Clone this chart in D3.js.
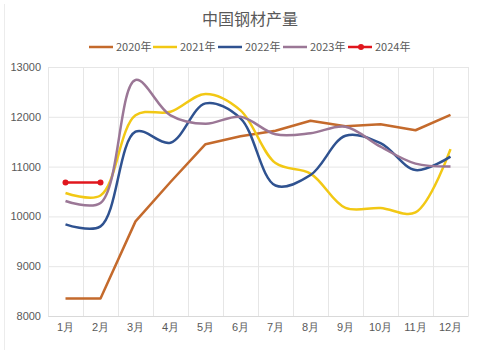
<!DOCTYPE html>
<html>
<head>
<meta charset="utf-8">
<script src="https://cdn.jsdelivr.net/npm/d3@7"></script>
<style>
  body { margin: 0; background: #fff; }
  svg { font-family: "Microsoft YaHei", "Noto Sans CJK SC", sans-serif; }
</style>
</head>
<body>
<script>
const months = ['1月', '2月', '3月', '4月', '5月', '6月', '7月', '8月', '9月', '10月', '11月', '12月']
const yTicks = [8000, 9000, 10000, 11000, 12000, 13000]
const v2020 = [8350, 8350, 9900, 10690, 11450, 11610, 11720, 11920, 11810, 11850, 11730, 12040]
const v2021 = [10470, 10420, 12030, 12100, 12460, 12130, 11070, 10860, 10170, 10170, 10080, 11350]
const v2022 = [9840, 9800, 11700, 11480, 12270, 11970, 10620, 10830, 11620, 11470, 10930, 11200]
const v2023 = [10310, 10270, 12740, 12030, 11860, 12000, 11650, 11670, 11800, 11400, 11060, 11000]
const v2024 = [10680, 10680]

const series = [
  { name: '2020年', values: v2020, color: '#c46a2c', smooth: false },
  { name: '2021年', values: v2021, color: '#f2c814', smooth: true },
  { name: '2022年', values: v2022, color: '#2f5290', smooth: true },
  { name: '2023年', values: v2023, color: '#9b7796', smooth: true },
  { name: '2024年', values: v2024, color: '#e0161d', smooth: false, marker: true }
]

const W = 500, H = 363
const margin = { top: 67, right: 32, bottom: 47, left: 48 }
const width = W - margin.left - margin.right
const height = H - margin.top - margin.bottom

const svg = d3.select('body').append('svg')
  .attr('width', W).attr('height', H)

// faint frame edge on the left
svg.append('line')
  .attr('x1', 4.5).attr('x2', 4.5).attr('y1', 4).attr('y2', 350)
  .attr('stroke', '#ececec')

svg.append('text')
  .attr('x', 250).attr('y', 25)
  .attr('text-anchor', 'middle')
  .attr('font-size', 16)
  .attr('fill', '#595959')
  .text('中国钢材产量')

const x = d3.scaleBand().domain(months).range([0, width])
const y = d3.scaleLinear().domain([8000, 13000]).range([height, 0])
const cx = d => x(d) + x.bandwidth() / 2

const g = svg.append('g').attr('transform', `translate(${margin.left},${margin.top})`)

// grid
g.selectAll('.hg').data(yTicks).join('line')
  .attr('x1', 0).attr('x2', width)
  .attr('y1', d => y(d) + 0.5).attr('y2', d => y(d) + 0.5)
  .attr('stroke', '#e6e6e6')
const vlines = months.map(m => x(m)).concat([width])
g.selectAll('.vg').data(vlines).join('line')
  .attr('x1', d => Math.round(d) + 0.5).attr('x2', d => Math.round(d) + 0.5)
  .attr('y1', 0).attr('y2', height)
  .attr('stroke', '#e6e6e6')

// axes
const yAxis = g.append('g')
  .call(d3.axisLeft(y).tickValues(yTicks).tickSize(0).tickPadding(7).tickFormat(d3.format('d')))
yAxis.select('.domain').remove()
yAxis.selectAll('text').attr('font-size', 11).attr('fill', '#595959')

const xAxis = g.append('g').attr('transform', `translate(0,${height})`)
  .call(d3.axisBottom(x).tickSize(0).tickPadding(7))
xAxis.select('.domain').attr('stroke', '#d9d9d9')
xAxis.selectAll('text').attr('font-size', 11).attr('fill', '#595959')

// lines
series.forEach(s => {
  const line = d3.line()
    .x((d, i) => cx(months[i]))
    .y(d => y(d))
    .curve(s.smooth ? d3.curveCatmullRom.alpha(0.5) : d3.curveLinear)
  g.append('path')
    .datum(s.values)
    .attr('fill', 'none')
    .attr('stroke', s.color)
    .attr('stroke-width', 2.5)
    .attr('stroke-linejoin', 'round')
    .attr('d', line)
  if (s.marker) {
    g.selectAll(null).data(s.values).join('circle')
      .attr('cx', (d, i) => cx(months[i]))
      .attr('cy', d => y(d))
      .attr('r', 3)
      .attr('fill', s.color)
  }
})

// legend
const legX = [89, 153, 218, 283, 348]
const leg = svg.append('g')
series.forEach((s, i) => {
  const lg = leg.append('g').attr('transform', `translate(${legX[i]},47)`)
  lg.append('line').attr('x1', 0).attr('x2', 24).attr('y1', 0).attr('y2', 0)
    .attr('stroke', s.color).attr('stroke-width', 2.5)
  if (s.marker) lg.append('circle').attr('cx', 13).attr('cy', 0).attr('r', 3).attr('fill', s.color)
  lg.append('text').attr('x', 27).attr('y', 4)
    .attr('font-size', 11).attr('fill', '#595959')
    .text(s.name)
})
</script>
</body>
</html>
